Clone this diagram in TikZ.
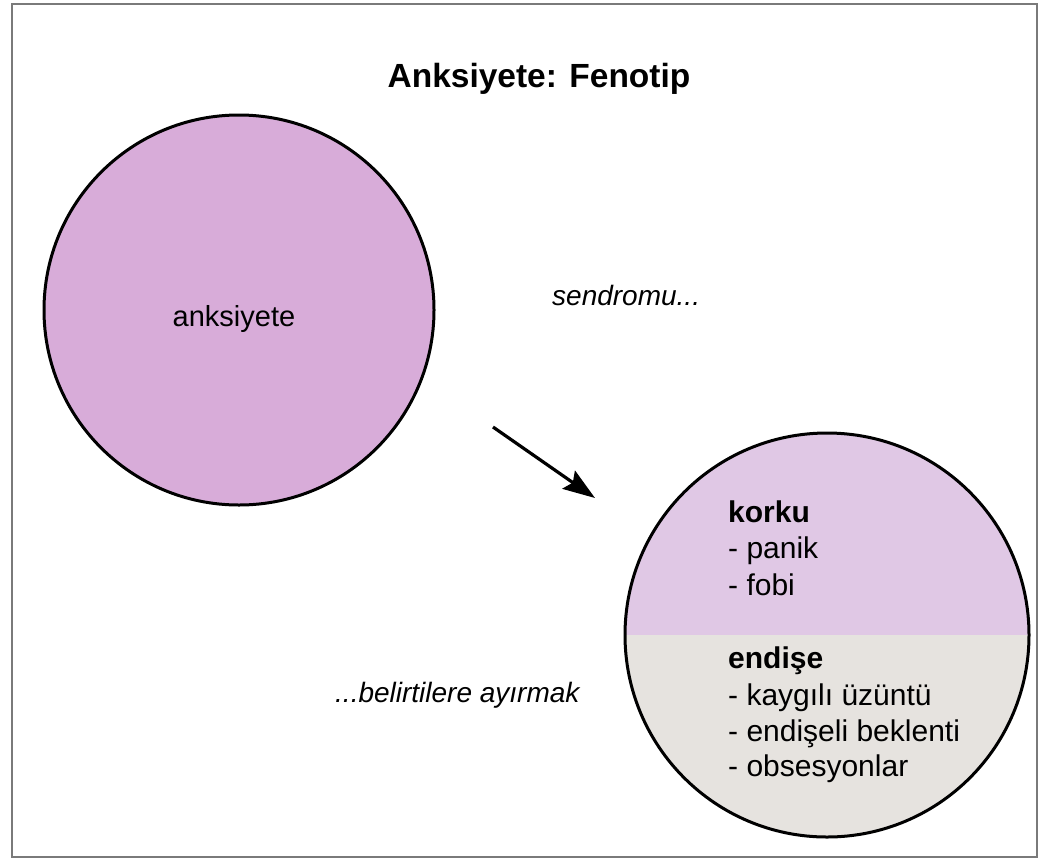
\documentclass[tikz,border=0pt]{standalone}
\usepackage{fontspec}
\setmainfont{Liberation Sans}
\usetikzlibrary{arrows.meta}
\definecolor{leftfill}{HTML}{D8ACD9}
\definecolor{topfill}{HTML}{E0C8E5}
\definecolor{botfill}{HTML}{E6E3DF}
\definecolor{framecol}{HTML}{7A7A7A}
\tikzset{
  bigcircle/.style={circle, draw=black, line width=3pt, inner sep=0pt},
  bodytext/.style={anchor=base west, inner sep=0pt, font=\fontsize{30}{36}\selectfont},
  headtext/.style={anchor=base west, inner sep=0pt, font=\fontsize{30}{36}\selectfont\bfseries},
  captext/.style={anchor=base west, inner sep=0pt, font=\fontsize{28}{34}\selectfont\itshape},
  arrowline/.style={line width=3.2pt, -{Stealth[length=32pt,width=22pt,inset=5pt]}}
}
\begin{document}
\begin{tikzpicture}[x=1pt,y=-1pt]
\useasboundingbox (0,0) rectangle (1040,860);
\fill[white] (0,0) rectangle (1040,860);
\draw[framecol, line width=2pt] (12,4) rectangle (1037,857);
% title
\node[anchor=base, inner sep=0pt, font=\fontsize{33.5}{40}\selectfont\bfseries] (title) at (539,87) {Anksiyete: Fenotip};
% left circle
\node[bigcircle, fill=leftfill, minimum size=390pt] (left) at (239,310) {};
\node[anchor=base, inner sep=0pt, font=\fontsize{29}{35}\selectfont] (anx) at (234,326) {anksiyete};
% right circle
\node[bigcircle, minimum size=404pt, path picture={
  \fill[topfill] (path picture bounding box.north west) rectangle (path picture bounding box.east);
  \fill[botfill] (path picture bounding box.west) rectangle (path picture bounding box.south east);
}] (right) at (827,635) {};
\node[headtext] (korku) at (728,522) {korku};
\node[bodytext] (panik) at (728,558) {- panik};
\node[bodytext] (fobi) at (728,595) {- fobi};
\node[headtext] (endise) at (728,668) {endişe};
\node[bodytext] (kaygi) at (728,705) {- kaygılı üzüntü};
\node[bodytext] (bekl) at (728,741) {- endişeli beklenti};
\node[bodytext] (obs) at (728,776) {- obsesyonlar};
% captions
\node[captext] (sendrom) at (552,305) {sendromu...};
\node[captext] (belirti) at (335,702) {...belirtilere ayırmak};
% arrow
\coordinate (astart) at (493,427);
\coordinate (aend) at (595,498);
\draw[arrowline] (astart) -- (aend);
\end{tikzpicture}
\end{document}
